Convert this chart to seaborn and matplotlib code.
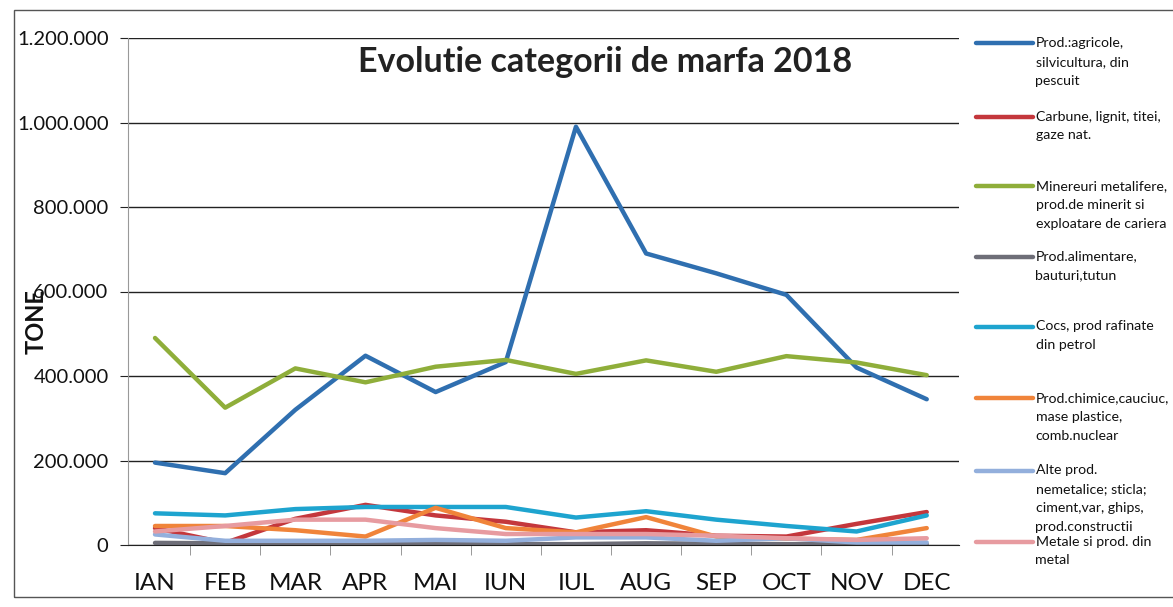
import matplotlib.pyplot as plt
import matplotlib.ticker as mticker
import numpy as np
import pandas as pd
import seaborn as sns
from matplotlib.patches import Rectangle

# date (tone)
luni = ["IAN", "FEB", "MAR", "APR", "MAI", "IUN", "IUL", "AUG", "SEP", "OCT", "NOV", "DEC"]

agricole = [195000, 170000, 320000, 448000, 362000, 433000, 990000, 690000, 643000, 592000, 420000, 345000]
carbune = [40000, 5000, 62000, 95000, 70000, 55000, 30000, 35000, 22000, 20000, 50000, 78000]
minereuri = [490000, 325000, 418000, 385000, 422000, 438000, 405000, 437000, 410000, 447000, 432000, 402000]
alimentare = [5000, 4000, 4000, 4000, 2000, 2000, 2000, 4000, 3000, 2000, 2000, 2000]
cocs = [75000, 70000, 85000, 90000, 90000, 90000, 65000, 80000, 60000, 45000, 32000, 70000]
chimice = [45000, 45000, 35000, 20000, 88000, 40000, 30000, 66000, 20000, 15000, 12000, 40000]
nemetalice = [25000, 10000, 10000, 10000, 12000, 10000, 18000, 18000, 10000, 16000, 6000, 6000]
metale = [32000, 45000, 60000, 60000, 40000, 26000, 26000, 26000, 22000, 16000, 12000, 16000]

categorii = [
    "Prod.:agricole,\nsilvicultura, din\npescuit",
    "Carbune, lignit, titei,\ngaze nat.",
    "Minereuri metalifere,\nprod.de minerit si\nexploatare de cariera",
    "Prod.alimentare,\nbauturi,tutun",
    "Cocs, prod rafinate\ndin petrol",
    "Prod.chimice,cauciuc,\nmase plastice,\ncomb.nuclear",
    "Alte prod.\nnemetalice; sticla;\nciment,var, ghips,\nprod.constructii",
    "Metale si prod. din\nmetal",
]
serii = [agricole, carbune, minereuri, alimentare, cocs, chimice, nemetalice, metale]
culori = ["#2f6fb0", "#c4373c", "#8fae3a", "#6e6e78", "#1ea4cf", "#f0843a", "#93afdc", "#e79ba0"]

rows = []
for cat, vals in zip(categorii, serii):
    for i, v in enumerate(vals):
        rows.append({"luna": i, "tone": v, "categorie": cat})
df = pd.DataFrame(rows)

sns.set_style("white")
plt.rcParams["font.family"] = ["Lato", "DejaVu Sans"]

W, H = 1173, 607
fig = plt.figure(figsize=(W / 100, H / 100), dpi=100)
ax = fig.add_axes([128 / W, 62 / H, (959 - 128) / W, (545 - 38) / H])

# chenarul graficului (scanat)
fig.add_artist(Rectangle((14 / W, 10 / H), 1.2, 587 / H, transform=fig.transFigure,
                         fill=False, edgecolor="#555555", linewidth=1))

sns.lineplot(data=df, x="luna", y="tone", hue="categorie", hue_order=categorii,
             palette=culori, linewidth=3.2, sort=False, ax=ax, legend=True)

ax.set_xlim(-0.385, 11.46)
ax.set_ylim(0, 1200000)
ax.set_yticks(np.arange(0, 1200001, 200000))
ax.yaxis.set_major_formatter(mticker.FuncFormatter(lambda v, p: f"{v:,.0f}".replace(",", ".")))
ax.yaxis.grid(True, color="#222222", linewidth=1)
ax.set_axisbelow(True)
ax.tick_params(axis="y", labelsize=14.5, length=6, color="#222222", left=True, pad=8,
               labelcolor="#111111")

ax.set_xticks(range(12))
ax.set_xticklabels(luni, fontsize=17.5, color="#111111")
ax.tick_params(axis="x", length=0, pad=20)
ax.set_xticks(np.arange(0.5, 11, 1), minor=True)
ax.tick_params(axis="x", which="minor", length=7, color="#888888", bottom=True)

for s in ["top", "right"]:
    ax.spines[s].set_visible(False)
ax.spines["left"].set_color("#999999")
ax.spines["bottom"].set_color("#222222")

ax.set_xlabel("")
ax.set_ylabel("TONE", fontsize=17, fontweight="bold", color="#111111")
ax.yaxis.set_label_coords(-0.097, 0.44)

ax.text(0.574, 0.953, "Evolutie categorii de marfa 2018", transform=ax.transAxes,
        ha="center", va="center", fontsize=24.5, fontweight="bold", color="#222222")

# legenda: cate o intrare, simbolul aliniat cu primul rand al textului
handles, labels = ax.get_legend_handles_labels()
ax.get_legend().remove()
rand_legenda = [42, 115, 185, 255, 325, 397, 470, 540]
lh = 19.3
for h, lab, yc in zip(handles, labels, rand_legenda):
    n = lab.count("\n") + 1
    text = " \n" * (n - 1) + lab
    top = yc - 4 - (n - 1) * lh
    leg = fig.legend([h], [text], loc="upper left",
                     bbox_to_anchor=(976 / W, 1 - top / H),
                     bbox_transform=fig.transFigure, frameon=False, fontsize=10.2,
                     handlelength=4.0, handletextpad=0.2, borderpad=0, borderaxespad=0)
    for t in leg.get_texts():
        t.set_linespacing(1.68)
        t.set_color("#111111")
    for line in leg.get_lines():
        line.set_linewidth(3.2)
        line.set_solid_capstyle("round")

plt.savefig("out.png", dpi=100)
